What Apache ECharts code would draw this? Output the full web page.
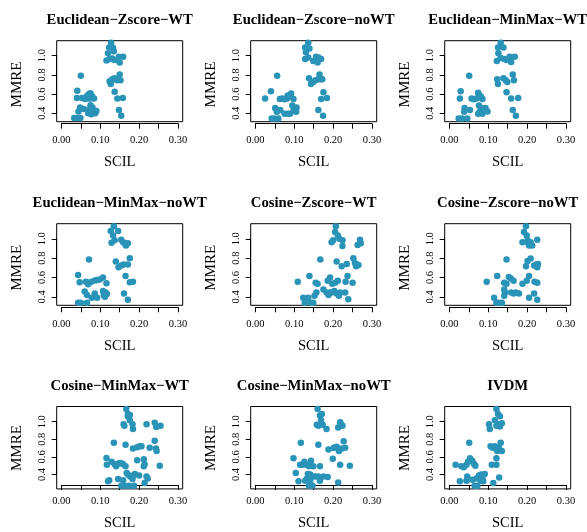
<!DOCTYPE html>
<html>
<head>
<meta charset="utf-8">
<script src="https://cdn.jsdelivr.net/npm/echarts@6/dist/echarts.min.js"></script>
<style>html,body{margin:0;padding:0;background:#fff}#c{width:587px;height:532px}</style>
</head>
<body>
<div id="c"></div>
<script>
// ---- data ----
const titles = [
  "Euclidean\u2212Zscore\u2212WT", "Euclidean\u2212Zscore\u2212noWT", "Euclidean\u2212MinMax\u2212WT",
  "Euclidean\u2212MinMax\u2212noWT", "Cosine\u2212Zscore\u2212WT", "Cosine\u2212Zscore\u2212noWT",
  "Cosine\u2212MinMax\u2212WT", "Cosine\u2212MinMax\u2212noWT", "IVDM"
];
const xTicks = [0, 0.05, 0.10, 0.15, 0.20, 0.25, 0.30];
const yTicks = [0.4, 0.6, 0.8, 1.0];

const euclideanZscoreWT = [
  [0.050,0.79],[0.041,0.635],[0.040,0.56],[0.053,0.56],[0.061,0.55],[0.066,0.58],[0.071,0.60],[0.075,0.61],
  [0.079,0.58],[0.069,0.555],[0.084,0.555],[0.075,0.555],[0.048,0.46],[0.057,0.445],[0.044,0.42],[0.033,0.35],
  [0.041,0.35],[0.049,0.35],[0.075,0.485],[0.080,0.46],[0.071,0.44],[0.080,0.425],[0.069,0.40],[0.081,0.40],
  [0.090,0.425],[0.087,0.40],[0.077,0.39],
  [0.128,1.135],[0.123,1.085],[0.133,1.08],[0.135,1.045],[0.120,1.025],[0.116,0.95],[0.124,0.965],[0.131,0.97],
  [0.137,0.955],[0.148,0.99],[0.159,0.99],[0.150,0.93],[0.150,0.805],[0.127,0.705],[0.131,0.755],[0.137,0.765],
  [0.143,0.745],[0.152,0.745],[0.124,0.735],[0.137,0.625],[0.144,0.555],[0.158,0.56],[0.148,0.435],[0.154,0.375]
];
const euclideanZscoreNoWT = [
  [0.056,0.79],[0.040,0.63],[0.025,0.555],[0.063,0.55],[0.069,0.555],[0.081,0.555],[0.087,0.575],[0.092,0.605],
  [0.083,0.585],[0.098,0.55],[0.075,0.545],[0.051,0.455],[0.055,0.415],[0.064,0.435],[0.042,0.345],[0.049,0.345],
  [0.059,0.345],[0.075,0.395],[0.083,0.395],[0.089,0.395],[0.095,0.48],[0.100,0.455],[0.106,0.46],[0.098,0.425],
  [0.105,0.415],
  [0.136,1.135],[0.128,1.085],[0.139,1.075],[0.130,1.035],[0.128,0.965],[0.136,0.98],[0.149,0.945],[0.156,0.99],
  [0.162,0.98],[0.169,0.965],[0.160,0.93],[0.165,0.805],[0.138,0.765],[0.143,0.705],[0.149,0.725],[0.155,0.745],
  [0.162,0.755],[0.169,0.755],[0.172,0.755],[0.175,0.62],[0.169,0.55],[0.184,0.56],[0.162,0.435],[0.174,0.375]
];
const euclideanMinMaxWT = [
  [0.051,0.79],[0.029,0.63],[0.027,0.555],[0.057,0.555],[0.063,0.545],[0.070,0.555],[0.076,0.595],[0.074,0.615],
  [0.081,0.575],[0.085,0.55],[0.053,0.435],[0.039,0.455],[0.038,0.415],[0.024,0.345],[0.033,0.345],[0.046,0.345],
  [0.076,0.48],[0.082,0.455],[0.079,0.425],[0.074,0.395],[0.085,0.395],[0.093,0.455],[0.098,0.42],
  [0.132,1.135],[0.125,1.085],[0.139,1.085],[0.126,1.025],[0.122,0.945],[0.132,0.975],[0.141,0.965],[0.147,0.955],
  [0.155,0.99],[0.168,0.99],[0.159,0.935],[0.163,0.805],[0.123,0.755],[0.125,0.705],[0.139,0.765],[0.145,0.745],
  [0.149,0.725],[0.166,0.745],[0.147,0.62],[0.159,0.555],[0.177,0.56],[0.163,0.435],[0.171,0.375]
];
const euclideanMinMaxNoWT = [
  [0.071,0.785],[0.043,0.625],[0.047,0.55],[0.063,0.555],[0.069,0.53],[0.077,0.555],[0.086,0.57],[0.092,0.575],
  [0.099,0.58],[0.107,0.60],[0.116,0.54],[0.060,0.455],[0.066,0.42],[0.086,0.435],[0.078,0.39],[0.092,0.39],
  [0.043,0.34],[0.050,0.34],[0.066,0.34],[0.107,0.46],[0.114,0.445],[0.109,0.42],[0.117,0.43],[0.112,0.40],
  [0.135,1.13],[0.127,1.08],[0.146,1.08],[0.133,1.035],[0.129,0.96],[0.137,0.985],[0.154,0.99],[0.159,0.965],
  [0.166,0.93],[0.171,0.955],[0.163,0.955],[0.176,0.80],[0.140,0.765],[0.147,0.705],[0.154,0.725],[0.160,0.735],
  [0.171,0.735],[0.165,0.615],[0.176,0.55],[0.184,0.555],[0.161,0.435],[0.171,0.37]
];
const cosineZscoreWT = [
  [0.109,0.555],[0.139,0.615],[0.167,0.785],[0.123,0.39],[0.136,0.39],[0.127,0.34],[0.143,0.34],[0.149,0.34],
  [0.152,0.41],[0.155,0.545],[0.160,0.535],[0.157,0.445],[0.175,0.475],[0.183,0.445],[0.188,0.42],[0.192,0.445],
  [0.186,0.565],[0.192,0.60],[0.198,0.535],[0.196,0.445],[0.203,0.46],[0.205,0.545],[0.212,0.565],[0.209,0.435],
  [0.215,0.41],[0.218,0.445],[0.231,0.445],[0.239,0.375],[0.232,0.555],[0.250,0.545],[0.237,0.615],
  [0.196,0.965],[0.200,0.985],[0.205,1.07],[0.207,1.13],[0.212,1.035],[0.216,1.0],[0.224,0.985],[0.224,0.925],
  [0.209,0.765],[0.222,0.715],[0.235,0.74],[0.252,0.80],[0.256,0.75],[0.259,0.715],[0.265,0.73],[0.261,0.735],
  [0.263,0.935],[0.269,0.99],[0.271,0.955]
];
const cosineZscoreNoWT = [
  [0.096,0.555],[0.123,0.615],[0.147,0.785],[0.115,0.39],[0.121,0.34],[0.127,0.34],[0.135,0.34],[0.141,0.41],
  [0.143,0.445],[0.141,0.475],[0.141,0.545],[0.147,0.535],[0.153,0.605],[0.158,0.59],[0.165,0.565],[0.159,0.445],
  [0.165,0.435],[0.171,0.445],[0.179,0.435],[0.188,0.535],[0.199,0.565],[0.205,0.615],[0.205,0.39],[0.218,0.435],
  [0.219,0.555],[0.226,0.545],[0.226,0.37],
  [0.188,0.965],[0.192,1.07],[0.197,1.13],[0.199,1.035],[0.201,0.985],[0.203,0.955],[0.205,0.93],[0.209,0.965],
  [0.213,0.93],[0.226,0.99],[0.197,0.715],[0.201,0.77],[0.209,0.795],[0.218,0.725],[0.223,0.735],[0.226,0.705],
  [0.228,0.74]
];
const cosineMinMaxWT = [
  [0.116,0.63],[0.117,0.56],[0.129,0.59],[0.137,0.565],[0.141,0.545],[0.148,0.575],[0.154,0.575],[0.159,0.565],
  [0.165,0.545],[0.135,0.785],[0.123,0.40],[0.120,0.39],[0.146,0.415],[0.154,0.345],[0.163,0.345],[0.174,0.345],
  [0.187,0.345],[0.159,0.40],[0.168,0.475],[0.171,0.46],[0.177,0.44],[0.183,0.415],[0.189,0.465],[0.185,0.45],
  [0.200,0.45],[0.195,0.605],[0.212,0.615],[0.212,0.545],[0.214,0.565],[0.214,0.372],[0.219,0.44],[0.222,0.42],
  [0.253,0.55],[0.184,0.725],[0.195,0.74],[0.201,0.75],[0.206,0.75],[0.227,0.735],[0.240,0.805],[0.243,0.725],
  [0.245,0.70],[0.165,0.765],
  [0.167,1.13],[0.171,1.08],[0.176,1.07],[0.171,1.055],[0.176,1.015],[0.183,0.975],[0.184,0.925],[0.160,0.975],
  [0.162,0.96],[0.219,0.975],[0.240,0.99],[0.244,0.945],[0.255,0.96]
];
const cosineMinMaxNoWT = [
  [0.098,0.625],[0.104,0.475],[0.117,0.785],[0.115,0.56],[0.121,0.56],[0.126,0.59],[0.132,0.56],[0.138,0.545],
  [0.143,0.60],[0.149,0.545],[0.166,0.545],[0.111,0.39],[0.128,0.395],[0.132,0.415],[0.135,0.465],[0.141,0.46],
  [0.147,0.44],[0.138,0.345],[0.147,0.345],[0.141,0.395],[0.153,0.44],[0.161,0.44],[0.166,0.395],[0.175,0.44],
  [0.186,0.435],[0.199,0.62],[0.205,0.74],[0.201,0.73],[0.209,0.745],[0.188,0.715],[0.162,0.765],[0.218,0.56],
  [0.243,0.55],[0.213,0.378],[0.215,0.70],[0.222,0.725],[0.231,0.735],[0.227,0.80],
  [0.160,1.13],[0.166,1.065],[0.171,1.08],[0.169,1.015],[0.158,0.97],[0.162,0.96],[0.173,0.97],[0.183,0.925],
  [0.218,0.995],[0.220,0.975],[0.224,0.96],[0.213,0.94]
];
const ivdm = [
  [0.016,0.56],[0.027,0.39],[0.031,0.545],[0.037,0.535],[0.044,0.56],[0.048,0.59],[0.053,0.625],[0.059,0.60],
  [0.063,0.57],[0.067,0.55],[0.051,0.785],[0.044,0.395],[0.046,0.44],[0.059,0.405],[0.065,0.345],[0.072,0.345],
  [0.070,0.42],[0.076,0.45],[0.082,0.46],[0.085,0.42],[0.091,0.465],[0.081,0.395],[0.087,0.39],
  [0.106,0.75],[0.111,0.735],[0.109,0.56],[0.113,0.372],[0.121,0.56],[0.121,0.625],[0.123,0.70],[0.127,0.735],
  [0.132,0.785],[0.135,0.70],[0.128,0.43],
  [0.102,0.975],[0.104,0.925],[0.117,1.015],[0.121,1.13],[0.125,1.08],[0.130,1.055],[0.127,0.975],[0.121,0.96],
  [0.135,0.985],[0.130,0.95],[0.117,0.75]
];
const panelData = [euclideanZscoreWT, euclideanZscoreNoWT, euclideanMinMaxWT,
  euclideanMinMaxNoWT, cosineZscoreWT, cosineZscoreNoWT,
  cosineMinMaxWT, cosineMinMaxNoWT, ivdm];

// ---- layout ----
const FONT = "'Liberation Serif','DejaVu Serif',serif";
const XMIN = -0.012, XMAX = 0.312, YMIN = 0.3125, YMAX = 1.156;
const colLeft = [56.7, 250.7, 444.7];
const rowTop = [40.7, 223.7, 406.5];
const boxH = [81, 81.6, 82.4];
const W = 126;
const COLOR = '#2a93b8';

const grids = [], xAxes = [], yAxes = [], series = [], titleList = [];
for (let i = 0; i < 9; i++) {
  const r = Math.floor(i / 3), c = i % 3;
  const L = colLeft[c], T = rowTop[r], H = boxH[r];
  const gA = 2 * i, gB = 2 * i + 1;
  grids.push({left: L, top: T, width: W, height: H, show: true, borderColor: '#000', borderWidth: 1, backgroundColor: 'transparent'});
  const bl = L + W * (xTicks[0] - XMIN) / (XMAX - XMIN);
  const bw = W * (xTicks[xTicks.length - 1] - xTicks[0]) / (XMAX - XMIN);
  const bt = T + H * (YMAX - yTicks[yTicks.length - 1]) / (YMAX - YMIN);
  const bh = H * (yTicks[yTicks.length - 1] - yTicks[0]) / (YMAX - YMIN);
  grids.push({left: bl, top: bt, width: bw, height: bh, show: false});
  xAxes.push({gridIndex: gA, type: 'value', min: XMIN, max: XMAX, show: false});
  yAxes.push({gridIndex: gA, type: 'value', min: YMIN, max: YMAX, show: false});
  xAxes.push({
    gridIndex: gB, type: 'value', min: xTicks[0], max: xTicks[xTicks.length - 1], interval: 0.05,
    position: 'bottom', offset: (T + H + 2) - (bt + bh),
    axisLine: {show: true, onZero: false, lineStyle: {color: '#000', width: 1}},
    axisTick: {show: true, length: 5, lineStyle: {color: '#000', width: 1}},
    splitLine: {show: false},
    axisLabel: {color: '#000', fontFamily: FONT, fontSize: 10.5, margin: 11,
      formatter: v => (Math.round(v * 100) % 10 === 0 ? v.toFixed(2) : '')},
    name: 'SCIL', nameLocation: 'middle', nameGap: 31,
    nameTextStyle: {color: '#000', fontFamily: FONT, fontSize: 14.5}
  });
  yAxes.push({
    gridIndex: gB, type: 'value', min: yTicks[0], max: yTicks[yTicks.length - 1], interval: 0.2,
    position: 'left', offset: bl - L,
    axisLine: {show: true, onZero: false, lineStyle: {color: '#000', width: 1}},
    axisTick: {show: true, length: 5, lineStyle: {color: '#000', width: 1}},
    splitLine: {show: false},
    axisLabel: {color: '#000', fontFamily: FONT, fontSize: 10.5, margin: 9, rotate: 90,
      formatter: v => v.toFixed(1)},
    name: 'MMRE', nameLocation: 'middle', nameGap: 32, nameRotate: 90,
    nameTextStyle: {color: '#000', fontFamily: FONT, fontSize: 15}
  });
  series.push({type: 'scatter', xAxisIndex: gA, yAxisIndex: gA, data: panelData[i],
    symbol: 'circle', symbolSize: 6.5, itemStyle: {color: COLOR, opacity: 1}, silent: true});
  titleList.push({text: titles[i], left: L + W / 2, top: T - 21.7 - 6.5, textAlign: 'center', padding: 0,
    textStyle: {color: '#000', fontFamily: FONT, fontSize: 14.7, fontWeight: 'bold'}});
}

const chart = echarts.init(document.getElementById('c'), null, {renderer: 'canvas'});
chart.setOption({
  animation: false,
  backgroundColor: '#fff',
  title: titleList,
  grid: grids,
  xAxis: xAxes,
  yAxis: yAxes,
  series: series
});
</script>
</body>
</html>
